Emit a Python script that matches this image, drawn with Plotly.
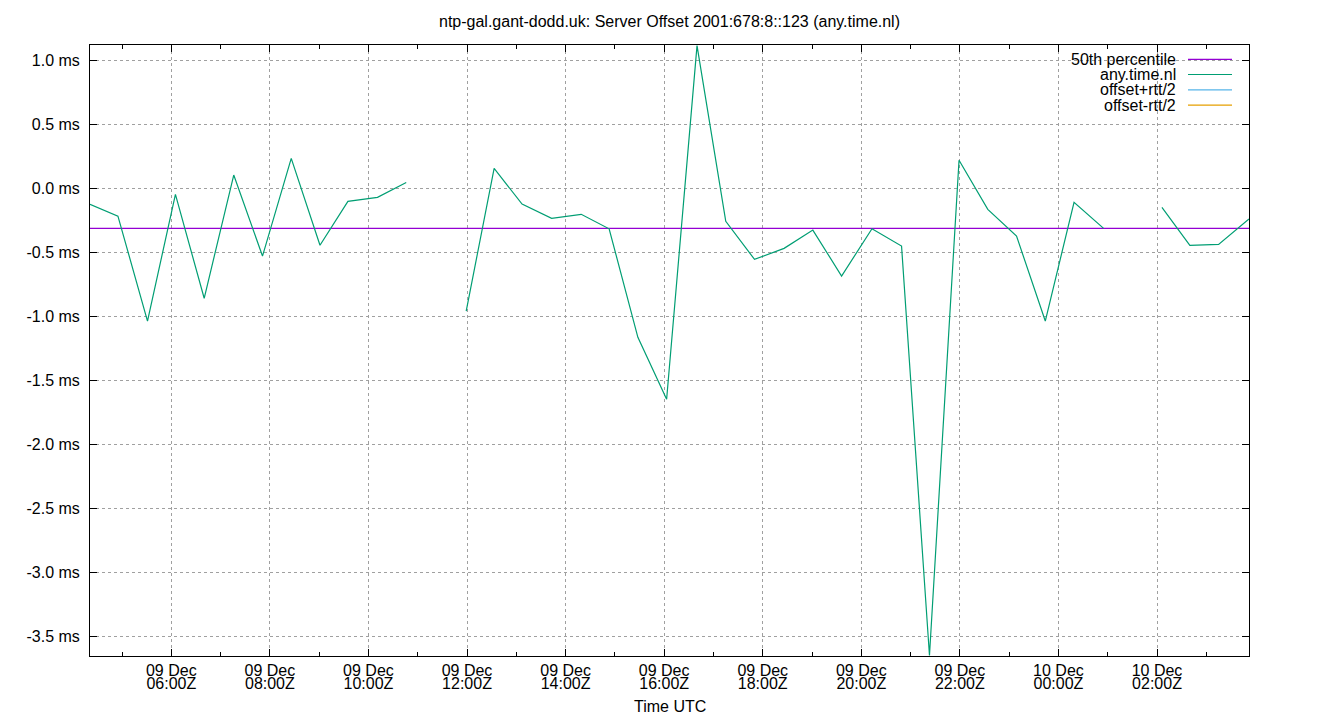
import plotly.graph_objects as go

# ---- data ----
day1 = "2023-12-09 "
day2 = "2023-12-10 "
times = [day1 + t for t in ["04:21", "04:55", "05:31", "06:05", "06:40", "07:16", "07:51", "08:26",
                             "09:01", "09:35", "10:11", "10:46", "11:21", "11:59", "12:33", "13:07",
                             "13:43", "14:19", "14:53", "15:28", "16:03", "16:40", "17:15", "17:50",
                             "18:26", "19:01", "19:36", "20:13", "20:49", "21:23", "21:59", "22:34",
                             "23:09", "23:44"]] + \
        [day2 + t for t in ["00:19", "00:55", "01:30", "02:06", "02:40", "03:15", "03:52"]]

offsets_ms = [-0.125, -0.217, -1.037, -0.047, -0.859, 0.104, -0.529, 0.234,
              -0.445, -0.102, -0.070, 0.046, None, -0.959, 0.156, -0.123,
              -0.234, -0.203, -0.316, -1.164, -1.648, 1.115, -0.258, -0.555,
              -0.469, -0.326, -0.685, -0.316, -0.451, -3.65, 0.219, -0.164,
              -0.373, -1.037, -0.109, -0.313, None, -0.148, -0.445, -0.438, -0.240]

percentile50_ms = -0.3125

y_tick_values = [1.0, 0.5, 0.0, -0.5, -1.0, -1.5, -2.0, -2.5, -3.0, -3.5]
y_tick_labels = [f"{v:.1f} ms" for v in y_tick_values]

legend_names = ["50th percentile", "any.time.nl", "offset+rtt/2", "offset-rtt/2"]
legend_colors = ["#9400d3", "#009e73", "#56b4e9", "#e69f00"]

title_text = "ntp-gal.gant-dodd.uk: Server Offset 2001:678:8::123 (any.time.nl)"
x_title = "Time UTC"

# ---- figure ----
FONT = "Liberation Sans, Arial, sans-serif"
FS = 16

# page body has an 8px margin; figure size/margins compensate for it
W, H = 1332, 712
OFF = 8
PL, PR, PT, PB = 90 - OFF, 1249 - OFF, 45 - OFF, 656 - OFF
PW, PH = PR - PL, PB - PT


def px(xp):
    return (xp - OFF - PL) / PW


def py(yp):
    return (PB - (yp - OFF)) / PH


fig = go.Figure()

x_range = [times[0], times[-1]]
y_range = [-3.654, 1.12]

fig.add_trace(go.Scatter(x=x_range, y=[percentile50_ms, percentile50_ms], mode="lines",
                         line=dict(color=legend_colors[0], width=1.2), name=legend_names[0],
                         showlegend=False))
fig.add_trace(go.Scatter(x=times, y=offsets_ms, mode="lines", connectgaps=False,
                         line=dict(color=legend_colors[1], width=1.2), name=legend_names[1],
                         showlegend=False))
fig.add_trace(go.Scatter(x=[], y=[], mode="lines", line=dict(color=legend_colors[2], width=1),
                         name=legend_names[2], showlegend=False))
fig.add_trace(go.Scatter(x=[], y=[], mode="lines", line=dict(color=legend_colors[3], width=1),
                         name=legend_names[3], showlegend=False))
# helper trace so the second (time-of-day label) axis is drawn
fig.add_trace(go.Scatter(x=x_range, y=[None, None], xaxis="x2", mode="lines",
                         showlegend=False, hoverinfo="skip"))

grid = dict(showgrid=True, gridcolor="#a0a0a0", gridwidth=1, griddash="dot")

fig.update_layout(
    width=W, height=H, autosize=False,
    margin=dict(l=PL, r=W - PR, t=PT, b=H - PB, pad=0),
    paper_bgcolor="white", plot_bgcolor="white",
    font=dict(family=FONT, size=FS, color="black"),
    showlegend=False,
    title=dict(text=title_text, x=0.5, xref="paper", xanchor="center",
               y=1 - (21 - OFF) / H, yref="container", yanchor="middle",
               font=dict(family=FONT, size=FS, color="black")),
    xaxis=dict(type="date", range=x_range, tickmode="linear",
               tick0=day1 + "06:00", dtick=2 * 3600000, tickformat="%d %b",
               ticks="inside", ticklen=7, tickcolor="black", tickwidth=1,
               showline=True, linecolor="black", linewidth=1, mirror="ticks",
               zeroline=False, ticklabelstandoff=0,
               minor=dict(tickmode="linear", tick0=day1 + "05:00", dtick=3600000,
                          ticks="inside", ticklen=4, tickcolor="black", showgrid=False),
               **grid),
    xaxis2=dict(type="date", range=x_range, overlaying="x", anchor="y", side="bottom",
                tickmode="linear", tick0=day1 + "06:00", dtick=2 * 3600000,
                tickformat="%H:%MZ", ticks="", showline=False, showgrid=False,
                zeroline=False, ticklabelstandoff=16),
    yaxis=dict(range=y_range, tickmode="array", tickvals=y_tick_values,
               ticktext=y_tick_labels, ticks="inside", ticklen=7, tickcolor="black",
               showline=True, linecolor="black", linewidth=1, mirror="ticks",
               zeroline=False, ticklabelstandoff=6, **grid),
)

# x-axis title
fig.add_annotation(text=x_title, xref="paper", yref="paper", x=0.5, y=py(706),
                   xanchor="center", yanchor="middle", showarrow=False,
                   font=dict(family=FONT, size=FS, color="black"))

# key box (white background covering the grid) with right-aligned labels
fig.add_shape(type="rect", xref="paper", yref="paper", x0=px(1043), x1=px(1242),
              y0=py(115), y1=1.0, fillcolor="white", line=dict(width=0), layer="between")
row_y = [59.3, 74.5, 89.8, 105.2]
for name, color, ry in zip(legend_names, legend_colors, row_y):
    yp = py(ry)
    fig.add_annotation(text=name, xref="paper", yref="paper", x=px(1178), y=yp,
                       xanchor="right", yanchor="middle", showarrow=False,
                       font=dict(family=FONT, size=FS, color="black"))
    fig.add_shape(type="line", xref="paper", yref="paper", x0=px(1188),
                  x1=px(1232), y0=yp, y1=yp, line=dict(color=color, width=1.2))

fig.write_html("out.html")
